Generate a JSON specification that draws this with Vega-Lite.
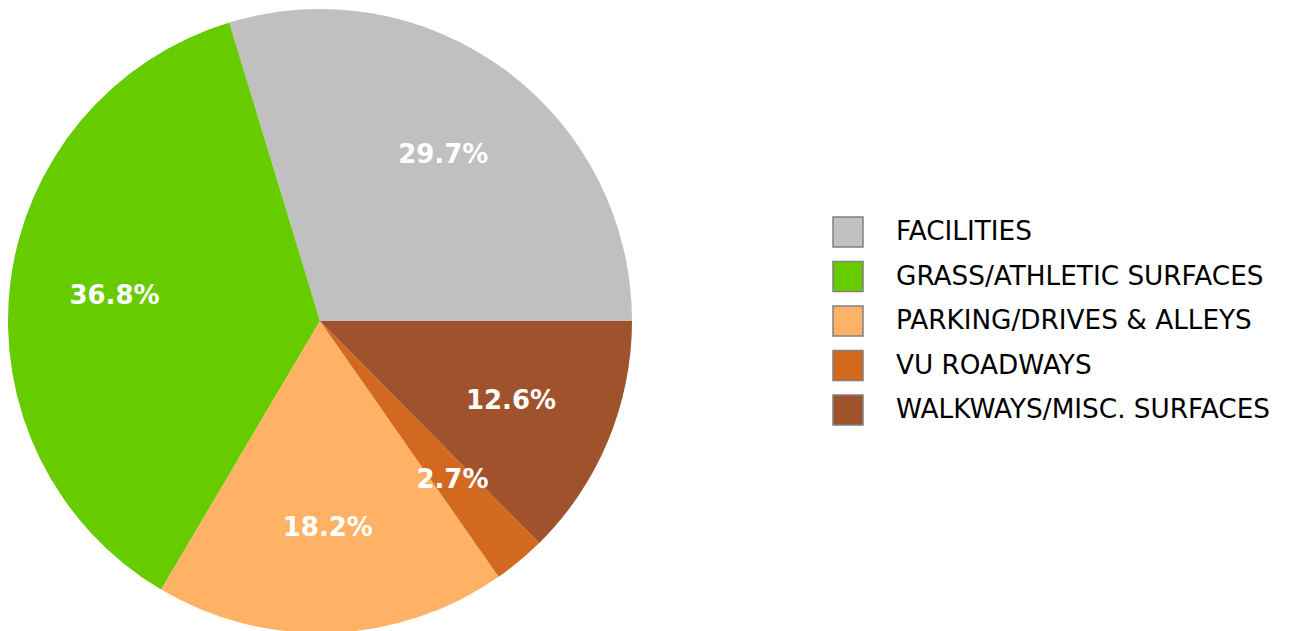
{
  "$schema": "https://vega.github.io/schema/vega-lite/v6.json",
  "width": 640,
  "height": 642,
  "padding": {"left": 0, "top": 0, "right": 653, "bottom": 0},
  "autosize": "none",
  "background": "white",
  "config": {"view": {"stroke": null}, "font": "DejaVu Sans"},
  "data": {"values": [
    {"category": "FACILITIES", "share": 0.297},
    {"category": "GRASS/ATHLETIC SURFACES", "share": 0.368},
    {"category": "PARKING/DRIVES & ALLEYS", "share": 0.182},
    {"category": "VU ROADWAYS", "share": 0.027},
    {"category": "WALKWAYS/MISC. SURFACES", "share": 0.126}
  ]},
  "encoding": {
    "theta": {"field": "share", "type": "quantitative", "stack": true, "scale": {"range": [1.5707963, -4.712389]}},
    "color": {
      "field": "category", "type": "nominal",
      "scale": {"domain": ["FACILITIES", "GRASS/ATHLETIC SURFACES", "PARKING/DRIVES & ALLEYS", "VU ROADWAYS", "WALKWAYS/MISC. SURFACES"],
                "range": ["#C0C0C0", "#66CC00", "#FFB266", "#D2691E", "#A0522D"]},
      "legend": {
        "title": null, "orient": "none", "legendX": 832, "legendY": 216, "padding": 0,
        "symbolType": "square", "symbolSize": 900, "symbolStrokeColor": "#808080", "symbolStrokeWidth": 1.5,
        "labelFont": "DejaVu Sans", "labelFontSize": 26.3, "labelColor": "black", "labelOffset": 32,
        "rowPadding": 8.5, "labelLimit": 600
      }
    },
    "order": {"field": "category", "type": "nominal"}
  },
  "layer": [
    {"mark": {"type": "arc", "outerRadius": 312, "stroke": null}},
    {"mark": {"type": "text", "radius": 207, "fontSize": 26, "fontWeight": "bold", "font": "DejaVu Sans"},
     "encoding": {"text": {"field": "share", "type": "quantitative", "format": ".1%"}, "color": {"value": "white"}}}
  ]
}
